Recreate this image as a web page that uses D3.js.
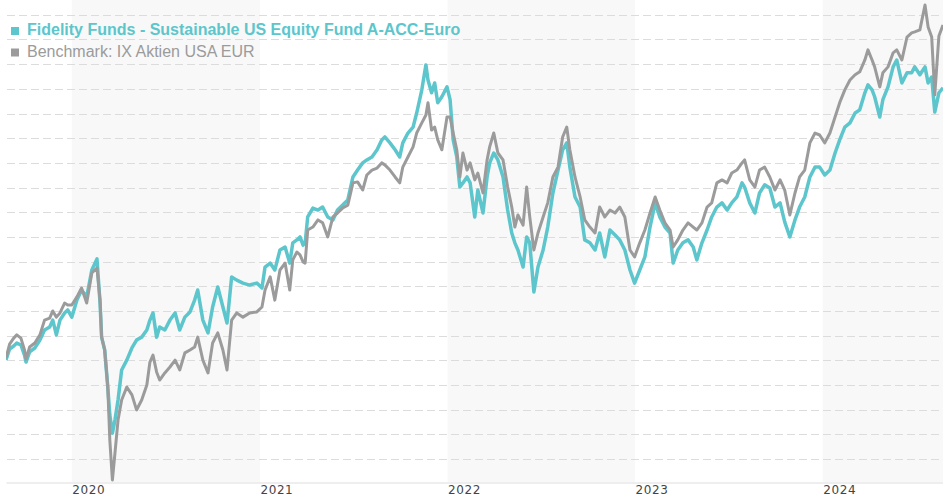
<!DOCTYPE html>
<html>
<head>
<meta charset="utf-8">
<script src="https://cdn.jsdelivr.net/npm/d3@7"></script>
<style>
  body { margin: 0; background: #fff; }
  svg { display: block; }
</style>
</head>
<body>
<div id="chart"></div>
<script>
var dates = [
  "2019-08-26","2019-09-02","2019-09-10","2019-09-16","2019-09-24","2019-10-01","2019-10-04","2019-10-11","2019-10-21","2019-10-31",
  "2019-11-09","2019-11-19","2019-11-25","2019-12-02","2019-12-09","2019-12-18","2019-12-24","2020-01-01","2020-01-11","2020-01-20",
  "2020-01-30","2020-02-09","2020-02-19","2020-02-25","2020-02-28","2020-03-05","2020-03-11","2020-03-15","2020-03-20","2020-03-25",
  "2020-03-31","2020-04-07","2020-04-17","2020-04-27","2020-05-06","2020-05-16","2020-05-26","2020-06-01","2020-06-07","2020-06-14",
  "2020-06-20","2020-06-30","2020-07-10","2020-07-20","2020-07-29","2020-08-08","2020-08-18","2020-08-27","2020-09-02","2020-09-12",
  "2020-09-22","2020-10-01","2020-10-11","2020-10-21","2020-10-29","2020-11-07","2020-11-17","2020-11-29","2020-12-12","2020-12-26",
  "2021-01-05","2021-01-11","2021-01-21","2021-01-30","2021-02-09","2021-02-19","2021-02-28","2021-03-06","2021-03-14","2021-03-20",
  "2021-03-26","2021-03-30","2021-04-04","2021-04-14","2021-04-24","2021-05-03","2021-05-13","2021-05-23","2021-06-01","2021-06-11",
  "2021-06-21","2021-07-01","2021-07-10","2021-07-20","2021-07-28","2021-08-07","2021-08-17","2021-08-26","2021-09-01","2021-09-11",
  "2021-09-21","2021-09-30","2021-10-06","2021-10-16","2021-10-26","2021-11-02","2021-11-12","2021-11-20","2021-11-24","2021-12-01",
  "2021-12-07","2021-12-13","2021-12-21","2021-12-31","2022-01-06","2022-01-12","2022-01-19","2022-01-25","2022-01-31","2022-02-08",
  "2022-02-14","2022-02-23","2022-03-01","2022-03-11","2022-03-19","2022-03-24","2022-04-01","2022-04-09","2022-04-19","2022-04-28",
  "2022-05-06","2022-05-12","2022-05-18","2022-05-28","2022-06-04","2022-06-10","2022-06-18","2022-06-26","2022-07-06","2022-07-15",
  "2022-07-25","2022-08-04","2022-08-13","2022-08-21","2022-08-27","2022-09-06","2022-09-16","2022-09-25","2022-10-05","2022-10-15",
  "2022-10-24","2022-11-03","2022-11-13","2022-11-23","2022-12-02","2022-12-12","2022-12-22","2022-12-31","2023-01-10","2023-01-20",
  "2023-01-30","2023-02-09","2023-02-18","2023-02-28","2023-03-10","2023-03-16","2023-03-25","2023-04-04","2023-04-14","2023-04-24",
  "2023-05-01","2023-05-11","2023-05-21","2023-05-30","2023-06-09","2023-06-19","2023-06-29","2023-07-08","2023-07-18","2023-07-28",
  "2023-08-02","2023-08-12","2023-08-22","2023-08-31","2023-09-10","2023-09-20","2023-09-30","2023-10-10","2023-10-19","2023-10-29",
  "2023-11-08","2023-11-17","2023-11-27","2023-12-07","2023-12-17","2023-12-26","2024-01-05","2024-01-15","2024-01-25","2024-02-03",
  "2024-02-13","2024-02-23","2024-03-04","2024-03-13","2024-03-23","2024-03-29","2024-04-06","2024-04-11","2024-04-21","2024-04-27",
  "2024-05-07","2024-05-17","2024-05-24","2024-06-03","2024-06-13","2024-06-22","2024-06-28","2024-07-08","2024-07-18","2024-07-24",
  "2024-07-31","2024-08-06","2024-08-14","2024-08-22"
];

// fund, indexed
var fundValues = [
  100.1,104.6,105.8,107.0,106.2,102.1,99.3,103.4,105.0,108.2,
  112.3,113.5,116.3,110.3,116.3,119.2,120.4,117.5,124.4,128.5,
  125.7,136.6,141.1,123.2,109.4,104.2,89.2,77.8,70.5,75.8,
  83.9,96.1,100.1,105.0,108.2,109.4,112.3,116.3,119.2,109.4,
  113.5,112.3,116.3,119.2,112.3,117.5,119.6,124.4,128.5,116.3,
  111.1,121.6,129.7,121.6,115.1,133.8,132.5,131.3,130.5,131.3,
  129.3,137.8,139.4,136.6,144.7,145.9,139.4,147.6,148.8,150.0,
  146.7,147.6,158.1,161.7,160.9,162.1,158.1,156.9,160.9,162.9,
  165.0,174.3,177.1,180.0,181.2,182.4,185.3,189.3,190.5,188.1,
  185.3,182.4,188.1,192.1,194.5,200.2,209.6,219.7,213.6,208.4,
  212.4,204.4,206.8,210.8,205.6,189.3,182.4,170.2,171.9,174.3,
  171.9,158.1,169.0,159.7,174.3,180.0,184.0,181.2,174.3,160.9,
  151.6,147.6,144.7,137.8,150.0,147.6,127.7,137.8,144.7,154.0,
  167.8,177.1,185.3,188.1,178.3,166.2,162.1,148.8,147.6,144.7,
  151.6,141.9,152.8,150.8,148.8,144.7,136.6,131.3,136.6,141.9,
  154.0,163.8,158.1,154.0,151.6,139.4,144.7,147.6,148.8,145.9,
  140.7,147.6,152.8,158.1,162.1,163.8,160.9,163.8,166.2,171.9,
  170.2,163.8,159.7,167.8,171.1,169.8,162.1,163.8,156.1,150.0,
  156.9,162.1,166.2,174.3,178.3,178.3,175.1,177.1,184.0,189.3,
  194.5,196.2,200.2,201.5,208.4,211.6,209.6,206.8,198.6,205.6,
  210.8,218.9,221.7,212.4,216.5,216.5,218.9,215.7,218.9,212.4,
  214.8,200.6,208.4,210.4
];

// benchmark, indexed
var benchValues = [
  100.9,106.6,109.0,110.3,109.0,104.2,100.5,105.4,107.0,110.3,
  116.3,117.1,120.0,117.5,119.2,123.2,122.4,122.4,125.7,129.3,
  123.2,135.4,137.4,124.4,109.4,104.2,89.2,67.7,51.5,62.4,
  75.8,83.9,89.2,86.0,79.9,83.9,90.0,99.3,102.1,95.3,
  92.0,94.9,97.3,100.1,96.1,103.0,104.2,105.4,109.4,100.1,
  94.9,107.0,111.1,104.2,96.1,116.3,119.2,117.5,119.2,119.6,
  121.6,128.5,133.8,124.4,136.6,139.4,128.5,140.7,143.9,142.7,
  139.9,139.4,152.8,154.0,156.9,155.7,150.0,158.1,159.7,161.7,
  162.9,171.9,172.3,169.0,175.1,177.1,177.9,180.0,179.2,177.1,
  174.3,171.9,178.3,182.4,186.5,192.1,196.2,199.4,204.4,193.3,
  194.5,189.3,185.3,198.6,198.6,192.1,185.3,174.3,184.0,177.1,
  180.0,173.1,175.9,167.8,181.2,186.5,192.1,184.0,181.2,170.2,
  162.1,154.0,158.9,154.8,170.2,158.1,144.7,151.6,158.1,163.8,
  174.3,178.3,190.5,194.5,185.3,174.3,166.2,156.9,154.0,151.6,
  162.1,158.1,160.9,159.7,162.1,158.1,144.7,141.9,147.6,152.8,
  159.7,166.2,160.9,155.7,152.8,145.9,148.8,152.8,155.7,154.0,
  152.8,155.7,162.1,163.8,171.9,173.1,171.9,175.9,177.1,180.0,
  181.2,173.1,170.2,177.1,178.3,174.3,169.0,173.1,169.0,158.9,
  167.8,174.3,177.1,188.1,192.1,191.3,188.1,192.1,198.6,204.4,
  209.6,213.6,215.7,216.9,221.7,225.8,221.7,218.9,210.8,216.5,
  218.9,224.6,225.8,221.7,231.0,232.7,233.1,233.9,244.0,235.1,
  231.0,207.6,231.4,235.9
];

var tickYears = [ 2020, 2021, 2022, 2023, 2024 ];
var shadedYears = [ 2020, 2022, 2024 ];
var gridValues = [ 60, 70, 80, 90, 100, 110, 120, 130, 140, 150, 160, 170, 180, 190, 200, 210, 220, 230, 240 ];

var seriesNames = [ "Fidelity Funds - Sustainable US Equity Fund A-ACC-Euro", "Benchmark: IX Aktien USA EUR" ];
var seriesColors = [ "#5cc6cc", "#9b9b9b" ];
var seriesWidths = [ 3.5, 3 ];

var width = 943;
var height = 500;
var plotLeft = 6;
var plotRight = 943;
var plotTop = 0;
var plotBottom = 482;

var parse = d3.timeParse( "%Y-%m-%d" );
var days = dates.map( parse );

var x = d3.scaleTime()
    .domain( d3.extent( days ) )
    .range( [ plotLeft, plotRight ] );

var y = d3.scaleLinear()
    .domain( [ 50.7, 246 ] )
    .range( [ plotBottom, plotTop ] );

var svg = d3.select( "#chart" ).append( "svg" )
    .attr( "width", width )
    .attr( "height", height );

svg.append( "defs" ).append( "clipPath" )
    .attr( "id", "plot" )
    .append( "rect" )
    .attr( "x", plotLeft )
    .attr( "y", plotTop )
    .attr( "width", plotRight - plotLeft )
    .attr( "height", plotBottom - plotTop );

// year bands
svg.append( "g" )
    .selectAll( "rect" )
    .data( shadedYears )
    .enter().append( "rect" )
    .attr( "x", function ( d ) { return x( new Date( d, 0, 1 ) ); } )
    .attr( "y", plotTop )
    .attr( "width", function ( d ) {
        return Math.min( x( new Date( d + 1, 0, 1 ) ), plotRight ) - x( new Date( d, 0, 1 ) );
    } )
    .attr( "height", plotBottom - plotTop )
    .attr( "fill", "#f8f8f8" );

svg.append( "g" )
    .selectAll( "line" )
    .data( gridValues )
    .enter().append( "line" )
    .attr( "x1", plotLeft + 1 )
    .attr( "x2", plotRight )
    .attr( "y1", function ( d ) { return Math.round( y( d ) ) + 0.5; } )
    .attr( "y2", function ( d ) { return Math.round( y( d ) ) + 0.5; } )
    .attr( "stroke", "#dcdcdc" )
    .attr( "stroke-width", 1 )
    .attr( "stroke-dasharray", "8,4" );

var xAxis = svg.append( "g" )
    .attr( "transform", "translate(0," + ( plotBottom + 0.5 ) + ")" )
    .call( d3.axisBottom( x )
        .tickValues( tickYears.map( function ( d ) { return new Date( d, 0, 1 ); } ) )
        .tickSize( 0 )
        .tickPadding( 3 )
        .tickFormat( d3.timeFormat( "%Y" ) ) );

xAxis.select( ".domain" )
    .attr( "stroke", "#dddddd" );

xAxis.selectAll( "text" )
    .attr( "text-anchor", "start" )
    .attr( "fill", "#444444" )
    .style( "font-family", "'DejaVu Sans', Verdana, sans-serif" )
    .style( "font-size", "12px" )
    .style( "letter-spacing", "0.6px" );

var line = d3.line()
    .x( function ( d ) { return x( d.date ); } )
    .y( function ( d ) { return y( d.value ); } );

var series = [ fundValues, benchValues ].map( function ( values ) {
    return values.map( function ( v, i ) { return { date: days[ i ], value: v }; } );
} );

svg.append( "g" )
    .attr( "clip-path", "url(#plot)" )
    .selectAll( "path" )
    .data( series )
    .enter().append( "path" )
    .attr( "d", line )
    .attr( "fill", "none" )
    .attr( "stroke", function ( d, i ) { return seriesColors[ i ]; } )
    .attr( "stroke-width", function ( d, i ) { return seriesWidths[ i ]; } )
    .attr( "stroke-linejoin", "round" );

var legend = svg.append( "g" )
    .selectAll( "g" )
    .data( seriesNames )
    .enter().append( "g" )
    .attr( "transform", function ( d, i ) { return "translate(11," + ( 27 + i * 21.5 ) + ")"; } );

legend.append( "rect" )
    .attr( "width", 8 )
    .attr( "height", 8 )
    .attr( "fill", function ( d, i ) { return seriesColors[ i ]; } );

legend.append( "text" )
    .attr( "x", 16 )
    .attr( "y", 8 )
    .text( function ( d ) { return d; } )
    .attr( "fill", function ( d, i ) { return seriesColors[ i ]; } )
    .style( "font-family", "'Liberation Sans', Arial, sans-serif" )
    .style( "font-size", "16px" )
    .style( "font-weight", function ( d, i ) { return i === 0 ? "bold" : "normal"; } );
</script>
</body>
</html>
